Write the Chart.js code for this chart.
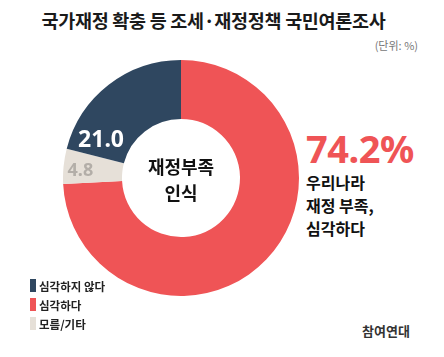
<!DOCTYPE html>
<html><head><meta charset="utf-8">
<script src="https://cdn.jsdelivr.net/npm/chart.js@4"></script>
<style>
html,body{margin:0;padding:0;background:#fff;}
body{width:444px;height:357px;position:relative;overflow:hidden;font-family:"Noto Sans CJK KR","Noto Sans",sans-serif;}
#title{position:absolute;left:0;width:427px;top:7px;text-align:center;font-size:18.5px;font-weight:bold;color:#1a1a1a;letter-spacing:-0.3px;}
#unit{position:absolute;right:26px;top:37px;font-size:11px;color:#777;}
#wrap{position:absolute;left:63px;top:60px;width:236px;height:236px;}
#big{position:absolute;left:306px;top:129px;font-size:38px;font-weight:bold;color:#ef5456;font-family:"Noto Sans","Noto Sans CJK KR",sans-serif;letter-spacing:-0.5px;line-height:1;}
#desc{position:absolute;left:306px;top:171px;font-size:16px;font-weight:bold;color:#111;line-height:23px;}
#center{position:absolute;left:121px;width:120px;top:153px;text-align:center;font-size:18px;font-weight:bold;color:#111;line-height:26px;}
#legend{position:absolute;left:30px;top:276px;font-size:11.5px;font-weight:bold;color:#222;}
#legend div{height:19px;line-height:14px;display:flex;align-items:center;}
#legend span.sw{display:inline-block;width:6px;height:13px;margin-right:3px;}
#logo{position:absolute;left:362px;top:321px;font-size:13px;font-weight:bold;color:#333;}
</style></head>
<body>
<div id="title">국가재정 확충 등 조세·재정정책 국민여론조사</div>
<div id="unit">(단위: %)</div>
<div id="wrap"><canvas id="c"></canvas></div>
<div id="center">재정부족<br>인식</div>
<div id="big"></div>
<div id="desc">우리나라<br>재정 부족,<br>심각하다</div>
<div id="legend"></div>
<div id="logo">참여연대</div>
<script>
const categories = ["심각하다", "모름/기타", "심각하지 않다"];
const values = [74.2, 4.8, 21.0];
const colors = ["#ef5456", "#e6e0d8", "#2f4760"];
const legendOrder = ["심각하지 않다", "심각하다", "모름/기타"];
const headline = "74.2%";

document.getElementById('big').textContent = headline;
const lg = document.getElementById('legend');
legendOrder.forEach(name => {
  const i = categories.indexOf(name);
  const d = document.createElement('div');
  d.innerHTML = '<span class="sw" style="background:' + colors[i] + '"></span>' + name;
  lg.appendChild(d);
});

// label placement per slice: [fraction along arc, fraction across ring, color, size] (null = no label)
const labelStyle = [null, [0.4, 0.71, "#b3aea8", 18], [0.145, 0.5, "#ffffff", 23]];

const sliceLabels = {
  id: 'sliceLabels',
  afterDatasetsDraw(chart) {
    const ctx = chart.ctx;
    const meta = chart.getDatasetMeta(0);
    meta.data.forEach((arc, i) => {
      const st = labelStyle[i];
      if (!st) return;
      const p = arc.getProps(['x','y','startAngle','endAngle','innerRadius','outerRadius'], true);
      const a = p.startAngle + (p.endAngle - p.startAngle) * st[0];
      const r = p.innerRadius + (p.outerRadius - p.innerRadius) * st[1];
      ctx.save();
      ctx.fillStyle = st[2];
      ctx.font = 'bold ' + st[3] + 'px "Noto Sans", sans-serif';
      ctx.textAlign = 'center';
      ctx.textBaseline = 'middle';
      ctx.fillText(values[i].toFixed(1), p.x + Math.cos(a) * r, p.y + Math.sin(a) * r);
      ctx.restore();
    });
  }
};

new Chart(document.getElementById('c'), {
  type: 'doughnut',
  data: { labels: categories, datasets: [{ data: values, backgroundColor: colors, borderWidth: 0 }] },
  options: {
    responsive: true, maintainAspectRatio: false, animation: false,
    cutout: '50%', rotation: 0,
    layout: { padding: 0 },
    plugins: { legend: { display: false }, tooltip: { enabled: false } }
  },
  plugins: [sliceLabels]
});
</script>
</body></html>
